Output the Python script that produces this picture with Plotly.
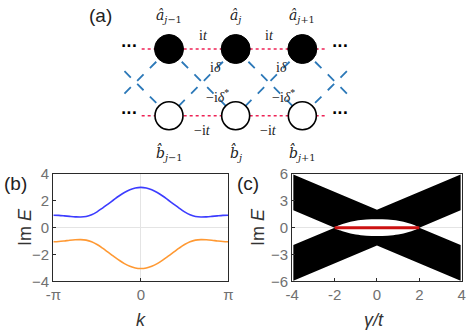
import numpy as np
import plotly.graph_objects as go

# ---- panel (b): Im E vs k (k in units of pi)
k_over_pi = [-1, -0.9375, -0.875, -0.8125, -0.75, -0.6875, -0.625, -0.5625, -0.5,
             -0.4375, -0.375, -0.3125, -0.25, -0.1875, -0.125, -0.0625, 0,
             0.0625, 0.125, 0.1875, 0.25, 0.3125, 0.375, 0.4375, 0.5,
             0.5625, 0.625, 0.6875, 0.75, 0.8125, 0.875, 0.9375, 1]
band_upper = [0.93, 0.915, 0.88, 0.84, 0.805, 0.79, 0.83, 0.96, 1.18,
              1.46, 1.76, 2.06, 2.36, 2.62, 2.82, 2.95, 3.00,
              2.95, 2.82, 2.62, 2.36, 2.06, 1.76, 1.46, 1.18,
              0.96, 0.83, 0.79, 0.805, 0.84, 0.88, 0.915, 0.93]
band_lower = [-1.05, -1.03, -0.99, -0.94, -0.905, -0.895, -0.93, -1.05, -1.26,
              -1.53, -1.83, -2.13, -2.42, -2.68, -2.88, -3.01, -3.05,
              -3.01, -2.88, -2.68, -2.42, -2.13, -1.83, -1.53, -1.26,
              -1.05, -0.93, -0.895, -0.905, -0.94, -0.99, -1.03, -1.05]

# ---- panel (c): Im E spectrum vs gamma/t
spec_gamma = [-3.95, 0, 3.95, 3.95, 2, 3.95, 3.95, 0, -3.95, -3.95, -2, -3.95, -3.95]
spec_im = [5.95, 2, 5.95, 1.95, 0, -1.95, -5.95, -2, -5.95, -1.95, 0, 1.95, 5.95]
gap_gamma = [-2, -1.75, -1.5, -1.25, -1, -0.5, 0, 0.5, 1, 1.25, 1.5, 1.75, 2]
gap_upper = [0, 0.3, 0.5, 0.65, 0.77, 0.9, 0.93, 0.9, 0.77, 0.65, 0.5, 0.3, 0]
real_gamma = [-2, 2]
real_im = [0, 0]

# ---- panel (a): ladder sketch (site index, row)
sites = [-1, 0, 1]
row_a, row_b = 1, 0
chain_left, chain_right = -1.41, 1.365
cut_left, cut_right = -1.735, 1.71

GRAY = "#707070"
FRAME = "#2a2a2a"

fig = go.Figure()

# (b)
k = [v * np.pi for v in k_over_pi]
fig.add_trace(go.Scatter(x=k, y=band_upper, mode="lines", line=dict(color="#3c3cff", width=1.6, shape="spline"),
                         xaxis="x", yaxis="y"))
fig.add_trace(go.Scatter(x=k, y=band_lower, mode="lines", line=dict(color="#ff9933", width=1.6, shape="spline"),
                         xaxis="x", yaxis="y"))

# (c)
fig.add_trace(go.Scatter(x=spec_gamma, y=spec_im, mode="lines", fill="toself", fillcolor="black",
                         line=dict(width=0, color="black"), xaxis="x2", yaxis="y2"))
lens_x = gap_gamma + gap_gamma[::-1]
lens_y = gap_upper + [-v for v in gap_upper[::-1]]
fig.add_trace(go.Scatter(x=lens_x, y=lens_y, mode="lines", fill="toself", fillcolor="white",
                         line=dict(width=0, color="white", shape="spline"), xaxis="x2", yaxis="y2"))
fig.add_trace(go.Scatter(x=real_gamma, y=real_im, mode="lines", line=dict(color="#cc1111", width=3),
                         xaxis="x2", yaxis="y2"))

# (a) diagonal couplings
diag_x, diag_y = [], []
for j in sites:
    for step in (-1, 1):
        x0, x1 = j, j + step
        y0, y1 = row_a, row_b
        if x1 < cut_left:
            y1 = y0 - (x0 - cut_left)
            x1 = cut_left
        if x1 > cut_right:
            y1 = y0 - (cut_right - x0)
            x1 = cut_right
        diag_x += [x0, x1, None]
        diag_y += [y0, y1, None]
for j in (sites[0], sites[-1]):
    step = -1 if j == sites[0] else 1
    edge = cut_left if step < 0 else cut_right
    diag_x += [j, edge, None]
    diag_y += [row_b, row_b + abs(edge - j), None]
fig.add_trace(go.Scatter(x=diag_x, y=diag_y, mode="lines", line=dict(color="#2b78b8", width=1.8, dash="dash"),
                         xaxis="x3", yaxis="y3"))

# (a) horizontal couplings
for r in (row_a, row_b):
    fig.add_trace(go.Scatter(x=[chain_left, chain_right], y=[r, r], mode="lines",
                             line=dict(color="#ee2255", width=1.6, dash="dot"), xaxis="x3", yaxis="y3"))

# (a) sites
fig.add_trace(go.Scatter(x=sites, y=[row_a] * 3, mode="markers",
                         marker=dict(size=29, color="black", line=dict(color="black", width=1)),
                         xaxis="x3", yaxis="y3"))
fig.add_trace(go.Scatter(x=sites, y=[row_b] * 3, mode="markers",
                         marker=dict(size=28, color="white", line=dict(color="black", width=1.6)),
                         xaxis="x3", yaxis="y3"))

serif = dict(family="DejaVu Serif", size=14, color="#222")
small = dict(family="Liberation Serif", size=14, color="#222")
ann = []


def label(x, y, text, font, ref="x3", angle=0):
    yref = "y3" if ref == "x3" else "paper"
    ann.append(dict(x=x, y=y, text=text, xref=ref, yref=yref, showarrow=False, font=font,
                    xanchor="center", yanchor="middle", textangle=angle))


a_labels = ["<i>a\u0302</i><sub><i>j</i>−1</sub>", "<i>a\u0302</i><sub><i>j</i></sub>", "<i>a\u0302</i><sub><i>j</i>+1</sub>"]
b_labels = ["<i>b\u0302</i><sub><i>j</i>−1</sub>", "<i>b\u0302</i><sub><i>j</i></sub>", "<i>b\u0302</i><sub><i>j</i>+1</sub>"]
for j, la, lb in zip(sites, a_labels, b_labels):
    label(j, 1.5, la, serif)
    label(j, -0.56, lb, serif)
for xo in (-0.48, 0.51):
    label(xo, 1.21, "i<i>t</i>", small)
    label(xo - 0.02, -0.22, "−i<i>t</i>", small)
    label(xo + 0.17, 0.72, "i<i>δ</i>", small)
    label(xo + 0.2, 0.29, "−i<i>δ</i><sup>*</sup>", small)
for xd in ((cut_left + chain_left) / 2 - 0.03, (cut_right + chain_right) / 2 + 0.02):
    for r in (row_a, row_b):
        label(xd, r + 0.04, "<b>···</b>", dict(family="DejaVu Sans", size=14, color="black"))

panel = dict(family="Liberation Sans", size=19, color="#222")
label(100 / 469, 1 - 15 / 335, "(a)", panel, ref="paper")
label(15 / 469, 1 - 183 / 335, "(b)", panel, ref="paper")
label(248 / 469, 1 - 183 / 335, "(c)", panel, ref="paper")

# axis titles
titlefont = dict(family="Liberation Sans", size=18, color="#333")
label(25 / 469, 1 - 227 / 335, "Im <i>E</i>", titlefont, ref="paper", angle=-90)
label(258 / 469, 1 - 227 / 335, "Im <i>E</i>", titlefont, ref="paper", angle=-90)
label(141 / 469, 1 - 320 / 335, "<i>k</i>", titlefont, ref="paper")
label(374 / 469, 1 - 320 / 335, "<i>γ/t</i>", titlefont, ref="paper")
fig.update_layout(annotations=ann)

tickfont = dict(family="Liberation Sans", size=15, color=GRAY)
frame = dict(showline=True, mirror=True, linecolor=FRAME, linewidth=1.3, ticks="inside", ticklen=3,
             tickcolor=FRAME, tickfont=tickfont, showgrid=False, automargin=False)

fig.update_layout(
    width=469, height=335, margin=dict(l=0, r=0, t=0, b=0, autoexpand=False),
    paper_bgcolor="white", plot_bgcolor="rgba(0,0,0,0)", showlegend=False,
    xaxis=dict(domain=[0.1137, 0.4868], range=[-np.pi, np.pi], anchor="y",
               tickvals=[-np.pi, 0, np.pi], ticktext=["-π", "0", "π"],
               zeroline=True, zerolinecolor="#e4e4e4", zerolinewidth=1, **frame),
    yaxis=dict(domain=[0.1603, 0.4806], range=[-4, 4], anchor="x", tickvals=[-4, -2, 0, 2, 4],
               zeroline=True, zerolinecolor="#e4e4e4", zerolinewidth=1, **frame),
    xaxis2=dict(domain=[0.6232, 0.9844], range=[-4, 4], anchor="y2",
                tickvals=[-4, -2, 0, 2, 4], ticktext=["-4", "-2", "0", "2", "4"], zeroline=False, **frame),
    yaxis2=dict(domain=[0.1603, 0.4806], range=[-6, 6], anchor="x2", tickvals=[-6, -3, 0, 3, 6],
                zeroline=True, zerolinecolor="#e4e4e4", zerolinewidth=1, **frame),
    xaxis3=dict(domain=[0, 1], range=[-3.535, 3.5], anchor="y3", visible=False, fixedrange=True),
    yaxis3=dict(domain=[1 - 165 / 335, 1], range=[-0.739, 1.735], anchor="x3", visible=False, fixedrange=True),
)

fig.write_html("out.html", config={"displayModeBar": False},
               post_script="document.body.style.margin='0px';")
